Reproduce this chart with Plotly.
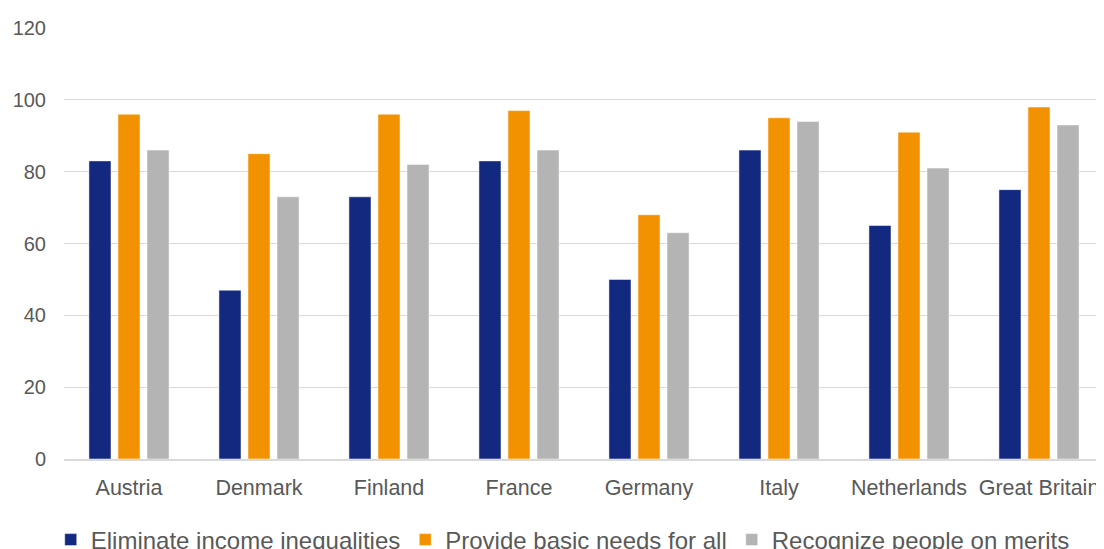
import plotly.graph_objects as go

countries = ["Austria", "Denmark", "Finland", "France", "Germany", "Italy", "Netherlands", "Great Britain"]
eliminate = [83, 47, 73, 83, 50, 86, 65, 75]
basic_needs = [96, 85, 96, 97, 68, 95, 91, 98]
merits = [86, 73, 82, 86, 63, 94, 81, 93]
series_names = ["Eliminate income inequalities", "Provide basic needs for all", "Recognize people on merits"]
colors = ["#13287f", "#f39200", "#b4b4b4"]

fig = go.Figure()
for name, vals, c in zip(series_names, [eliminate, basic_needs, merits], colors):
    fig.add_trace(go.Bar(x=countries, y=vals, name=name, marker_color=c,
                         marker_line=dict(color="white", width=0.5)))

# the page body adds an 8px offset, so the figure is 1096x541
fig.update_layout(
    width=1096, height=541,
    margin=dict(l=56, r=0, t=20, b=90, autoexpand=False),
    plot_bgcolor="white", paper_bgcolor="white",
    barmode="group", bargap=0.33, bargroupgap=0.24,
    font=dict(family="Liberation Sans, Arial, sans-serif", size=20, color="#595959"),
    xaxis=dict(showgrid=False, showline=True, linecolor="#d9d9d9", linewidth=1.5,
               ticks="", automargin=False, ticklabelstandoff=8,
               tickfont=dict(size=21.5, color="#595959")),
    yaxis=dict(range=[0, 120], dtick=20, showgrid=True, gridcolor="#d9d9d9", gridwidth=1,
               zeroline=False, showline=False, ticks="", automargin=False,
               tickfont=dict(size=20, color="#595959"), ticklabelstandoff=17),
    legend=dict(orientation="h", xref="container", x=0.039, xanchor="left",
                yref="container", y=0.0166, yanchor="middle",
                font=dict(size=24, color="#595959"), itemwidth=30, traceorder="normal",
                bgcolor="rgba(0,0,0,0)"),
)
fig.write_html("out.html")
